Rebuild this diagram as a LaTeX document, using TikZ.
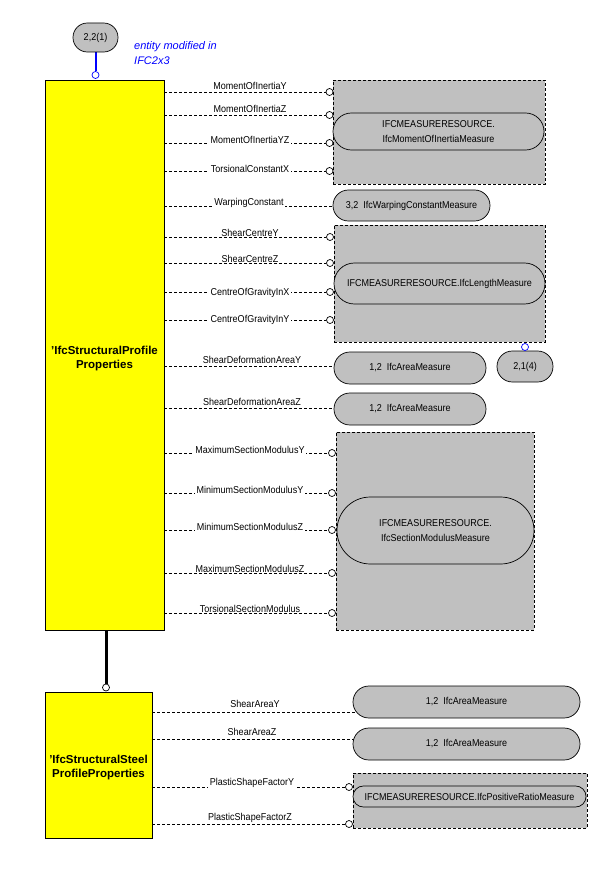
\documentclass[tikz,border=0pt]{standalone}
\usepackage{fontspec}
\setmainfont{Liberation Sans}
\newfontfamily\labfont[FakeStretch=0.9]{Liberation Sans}
\pgfdeclarelayer{bg}
\pgfsetlayers{bg,main}
\definecolor{boxgray}{HTML}{C0C0C0}
\definecolor{entyellow}{HTML}{FFFF00}
\definecolor{linkblue}{HTML}{0000FF}
\begin{document}
\begin{tikzpicture}[x=1pt,y=-1pt,
  ent/.style={draw=black, line width=0.9pt, fill=entyellow, inner sep=0pt},
  entlbl/.style={inner sep=0pt, font=\fontsize{11.5}{14}\selectfont\bfseries, align=center},
  typ/.style={draw=black, line width=0.7pt, fill=boxgray, inner sep=0pt,
    rounded corners=#1, font={\labfont\fontsize{10}{15}\selectfont}, align=center},
  grp/.style={draw=black, line width=0.7pt, dash pattern=on 3pt off 2pt,
    fill=boxgray, inner sep=0pt},
  circ/.style={circle, draw=black, fill=white, line width=0.7pt,
    minimum size=7pt, inner sep=0pt},
  attr/.style={draw=black, line width=0.7pt, dash pattern=on 3pt off 2pt},
  lbl/.style={font={\labfont\fontsize{10}{12}\selectfont}, anchor=base,
    fill=white, inner xsep=1.5pt, inner ysep=0.5pt},
  note/.style={text=linkblue, font=\fontsize{11}{14}\selectfont\itshape,
    anchor=base west, inner sep=0pt}
]
\useasboundingbox (0,0) rectangle (600,888);
\begin{pgfonlayer}{bg}
  \fill[white] (0,0) rectangle (600,888);
\end{pgfonlayer}

% top reference
\node[typ=14.4pt, minimum width=45pt, minimum height=29pt] (top) at (95.5,37.5) {2,2(1)};
\node[circ, draw=linkblue] (tc) at (95.5,75) {};
\node[note] (n1) at (134,50) {entity modified in};
\node[note] (n2) at (134,65) {IFC2x3};

% entities
\node[ent, minimum width=119pt, minimum height=550pt] (E1) at (104.5,355) {};
\node[entlbl] (E1t) at (104.5,358.5) {\char39 IfcStructuralProfile\\Properties};
\node[ent, minimum width=107pt, minimum height=146pt] (E2) at (98.5,765) {};
\node[entlbl] (E2t) at (98.5,768) {\char39 IfcStructuralSteel\\ProfileProperties};
\node[circ] (ec) at (106,687.5) {};

% target groups and types
\node[grp, minimum width=212pt, minimum height=104pt] (G1) at (439,132) {};
\node[typ=18.4pt, minimum width=211pt, minimum height=37pt] (T1) at (438.5,131.5)
  {IFCMEASURERESOURCE.\\IfcMomentOfInertiaMeasure};
\node[typ=15.4pt, minimum width=157pt, minimum height=31pt] (W) at (411.5,205.5)
  {3,2\ \ IfcWarpingConstantMeasure};
\node[grp, minimum width=211pt, minimum height=117pt] (G2) at (439.5,283.5) {};
\node[typ=20.4pt, minimum width=211pt, minimum height=41pt] (T2) at (439.5,283.5)
  {IFCMEASURERESOURCE.IfcLengthMeasure};
\node[typ=15.9pt, minimum width=152pt, minimum height=32pt] (A1) at (410,368)
  {1,2\ \ IfcAreaMeasure};
\node[typ=15.4pt, minimum width=56pt, minimum height=31pt] (R) at (525,366.5) {2,1(4)};
\node[circ, draw=linkblue] (rc) at (525,347) {};
\node[typ=15.9pt, minimum width=152pt, minimum height=32pt] (A2) at (410,409)
  {1,2\ \ IfcAreaMeasure};
\node[grp, minimum width=198pt, minimum height=198pt] (G3) at (435,531) {};
\node[typ=33.4pt, minimum width=197pt, minimum height=67pt] (T3) at (435.5,530.5)
  {IFCMEASURERESOURCE.\\IfcSectionModulusMeasure};
\node[typ=15.9pt, minimum width=227pt, minimum height=32pt] (B1) at (466.5,702)
  {1,2\ \ IfcAreaMeasure};
\node[typ=15.9pt, minimum width=227pt, minimum height=32pt] (B2) at (466.5,744)
  {1,2\ \ IfcAreaMeasure};
\node[grp, minimum width=234pt, minimum height=55pt] (G4) at (470,800.5) {};
\node[typ=10.4pt, minimum width=233pt, minimum height=21pt] (T4) at (469.5,796.5)
  {IFCMEASURERESOURCE.IfcPositiveRatioMeasure};

% connectors
\begin{pgfonlayer}{bg}
  \draw[linkblue, line width=2pt] (top.south) -- (tc);
  \draw[line width=3pt] (E1.south -| ec) -- (ec);
\end{pgfonlayer}

% attributes with circle ends (first entity)
\foreach \n/\cx/\y/\ly/\t in {
  1/329.5/92/90/MomentOfInertiaY,
  2/329.5/115/113/MomentOfInertiaZ,
  3/329.5/143/143/MomentOfInertiaYZ,
  4/329.5/171/172/TorsionalConstantX,
  6/330/237/236/ShearCentreY,
  7/330/263/262/ShearCentreZ,
  8/330/292/295/CentreOfGravityInX,
  9/330/320/322/CentreOfGravityInY,
  12/332/453/453/MaximumSectionModulusY,
  13/332/493/493/MinimumSectionModulusY,
  14/332/530/530/MinimumSectionModulusZ,
  15/332/573/572/MaximumSectionModulusZ,
  16/332/613/612/TorsionalSectionModulus}{
  \node[circ] (c\n) at (\cx,\y) {};
  \node[lbl] (l\n) at (250,\ly) {\t};
  \begin{pgfonlayer}{bg}
    \draw[attr] (E1.east |- c\n) -- (c\n);
  \end{pgfonlayer}
}

% direct attributes (first entity)
\node[lbl] (l5) at (249,205) {WarpingConstant};
\node[lbl] (l10) at (252,363) {ShearDeformationAreaY};
\node[lbl] (l11) at (252,405) {ShearDeformationAreaZ};
\begin{pgfonlayer}{bg}
  \draw[attr] (E1.east |- 0,206) -- (W.center |- 0,206);
  \draw[attr] (E1.east |- 0,366) -- (A1.center |- 0,366);
  \draw[attr] (E1.east |- 0,408) -- (A2.center |- 0,408);
\end{pgfonlayer}

% second entity attributes
\node[circ] (c19) at (349,787) {};
\node[circ] (c20) at (349,824) {};
\node[lbl] (l17) at (255,707) {ShearAreaY};
\node[lbl] (l18) at (252,735) {ShearAreaZ};
\node[lbl] (l19) at (252,785) {PlasticShapeFactorY};
\node[lbl] (l20) at (250,820) {PlasticShapeFactorZ};
\begin{pgfonlayer}{bg}
  \draw[attr] (E2.east |- 0,712) -- (B1.center |- 0,712);
  \draw[attr] (E2.east |- 0,739) -- (B2.center |- 0,739);
  \draw[attr] (E2.east |- c19) -- (c19);
  \draw[attr] (E2.east |- c20) -- (c20);
\end{pgfonlayer}
\end{tikzpicture}
\end{document}
